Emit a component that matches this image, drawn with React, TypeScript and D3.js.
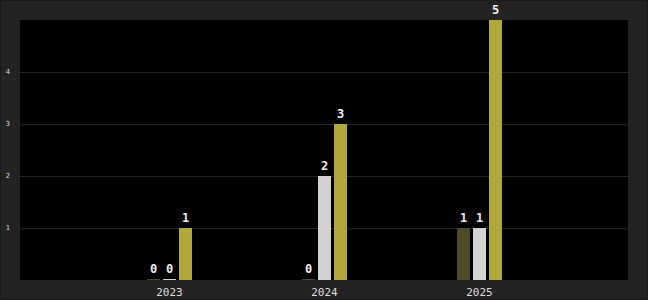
import React from "react";
import * as d3 from "d3";

const categories = ["2023", "2024", "2025"];
const seriesKeys = ["s1", "s2", "s3"];
const series1 = [0, 0, 1];
const series2 = [0, 2, 1];
const series3 = [1, 3, 5];
const yTicks = [1, 2, 3, 4];
const seriesColors = ["#4e4a27", "#d3d3d3", "#b1a83c"];

const W = 648;
const H = 300;
const plot = { left: 20, top: 20, right: 628, bottom: 280 };

export default function App() {
  const values = [series1, series2, series3];
  const groupW = 45;
  const step = 155;
  const x0 = d3
    .scaleBand<string>()
    .domain(categories)
    .range([21, 628])
    .paddingInner(1 - groupW / step)
    .paddingOuter(((607 / step) - 3 + (1 - groupW / step)) / 2);
  const x1 = d3
    .scaleBand<string>()
    .domain(seriesKeys)
    .range([0, x0.bandwidth()])
    .paddingInner(3 / 16)
    .paddingOuter(0);
  const y = d3.scaleLinear().domain([0, 5]).range([plot.bottom, plot.top]);
  const mono = "'DejaVu Sans Mono', monospace";

  return (
    <svg
      width={W}
      height={H}
      style={{ position: "fixed", left: 0, top: 0, display: "block" }}
    >
      <rect x={0.5} y={0.5} width={W - 1} height={H - 1} fill="#232323" stroke="#1a1a1a" />
      <rect
        x={plot.left}
        y={plot.top}
        width={plot.right - plot.left}
        height={plot.bottom - plot.top}
        fill="#000"
      />
      {yTicks.map((t) => (
        <g key={t}>
          <line
            x1={plot.left}
            x2={plot.right}
            y1={y(t) + 0.5}
            y2={y(t) + 0.5}
            stroke="#242424"
            strokeWidth={1}
          />
          <text
            x={10}
            y={y(t) + 1.8}
            fill="#dddddd"
            fontSize={7}
            fontFamily={mono}
            textAnchor="end"
          >
            {t}
          </text>
        </g>
      ))}
      {categories.map((c, ci) => (
        <g key={c}>
          {seriesKeys.map((k, si) => {
            const v = values[si][ci];
            const bx = (x0(c) as number) + (x1(k) as number);
            const top = y(v);
            const h = Math.max(plot.bottom - top, 1);
            return (
              <g key={k}>
                <rect
                  x={bx}
                  y={plot.bottom - h}
                  width={x1.bandwidth()}
                  height={h}
                  fill={seriesColors[si]}
                  shapeRendering="crispEdges"
                />
                <text
                  x={bx + x1.bandwidth() / 2}
                  y={plot.bottom - h - 6}
                  fill="#eeeeee"
                  fontSize={12}
                  fontWeight="bold"
                  fontFamily={mono}
                  textAnchor="middle"
                >
                  {v}
                </text>
              </g>
            );
          })}
          <text
            x={(x0(c) as number) + x0.bandwidth() / 2}
            y={296}
            fill="#dddddd"
            fontSize={11}
            fontFamily={mono}
            textAnchor="middle"
          >
            {c}
          </text>
        </g>
      ))}
    </svg>
  );
}
